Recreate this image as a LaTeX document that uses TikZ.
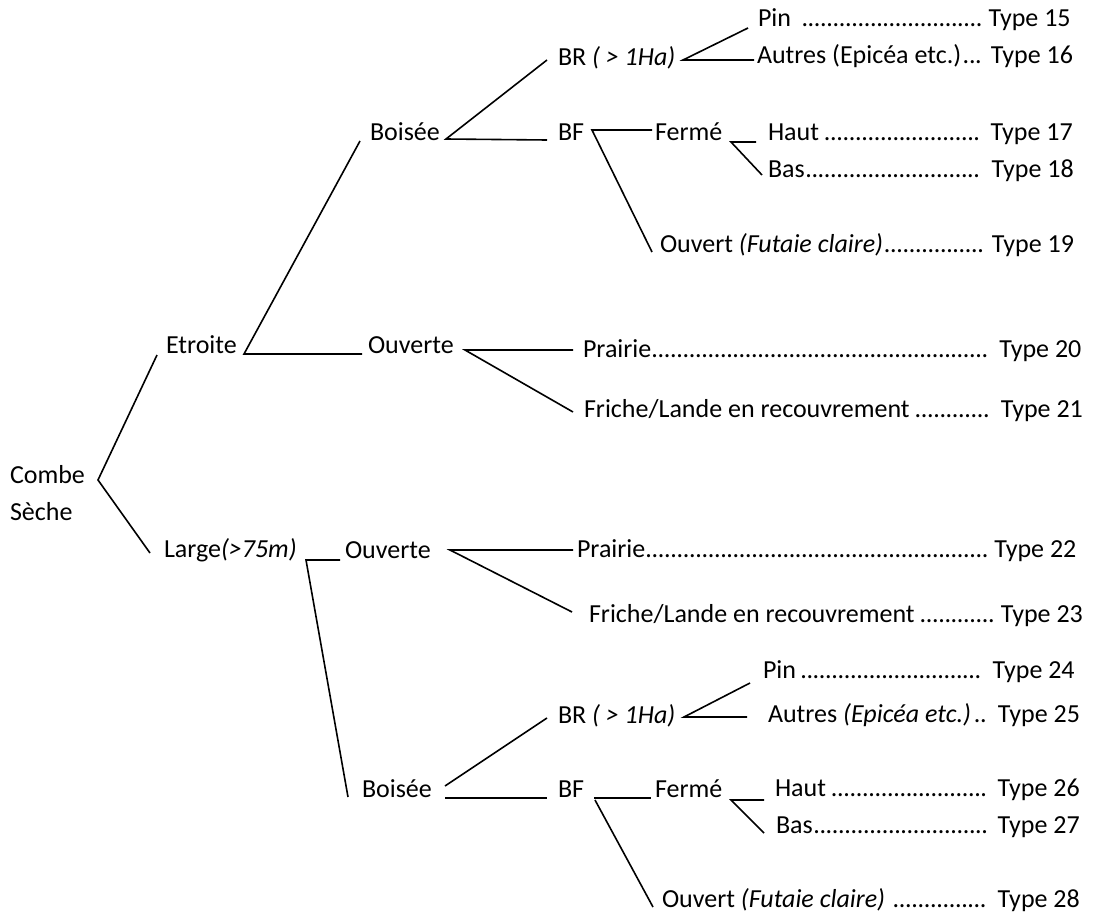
\documentclass[tikz,border=0pt]{standalone}
\usepackage{fontspec}
\setmainfont{Carlito}
\newcommand\dl{\leaders\hbox to 0.24em{\hss.\hss}\hfill}
\newcommand\rowbox[2]{\makebox[#1pt][l]{#2}}
\tikzset{
  lbl/.style={anchor=base west, inner sep=0pt, outer sep=0pt, font=\fontsize{26}{31}\selectfont},
  con/.style={line width=1.6pt},
}
\begin{document}
\begin{tikzpicture}[x=1pt,y=-1pt]
\useasboundingbox[fill=white] (0,0) rectangle (1095,918);
% ---- labels
\node[lbl] (combe) at (10,483) {Combe};
\node[lbl] (seche) at (10,520) {Sèche};
\node[lbl] (etroite) at (166,353) {Etroite};
\node[lbl] (large) at (164,557) {Large\textit{(>75m)}};
\node[lbl] (boiseeA) at (370,140) {Boisée};
\node[lbl] (ouverteA) at (368,353) {Ouverte};
\node[lbl] (brA) at (558,65) {BR \textit{( > 1Ha)}};
\node[lbl] (bfA) at (558,140) {BF};
\node[lbl] (fermeA) at (655,140) {Fermé};
\node[lbl] (ouverteB) at (345,558) {Ouverte};
\node[lbl] (boiseeB) at (362,797) {Boisée};
\node[lbl] (brB) at (558,723) {BR \textit{( > 1Ha)}};
\node[lbl] (bfB) at (558,797) {BF};
\node[lbl] (fermeB) at (655,797) {Fermé};
% ---- leaves
\node[lbl] (t15) at (758,27) {\rowbox{313}{Pin \dl{} Type 15}};
\node[lbl] (t16) at (757,63) {\rowbox{316}{Autres (Epicéa etc.)\dl{} Type 16}};
\node[lbl] (t17) at (768,140) {\rowbox{305}{Haut\dl{} Type 17}};
\node[lbl] (t18) at (768,177) {\rowbox{306}{Bas\dl{} Type 18}};
\node[lbl] (t19) at (660,252) {\rowbox{414}{Ouvert \textit{(Futaie claire)\dl{}} Type 19}};
\node[lbl] (t20) at (583,357) {\rowbox{499}{Prairie\dl{} Type 20}};
\node[lbl] (t21) at (584,417) {\rowbox{499}{Friche/Lande en recouvrement\dl{} Type 21}};
\node[lbl] (t22) at (577,557) {\rowbox{500}{Prairie\dl{} Type 22}};
\node[lbl] (t23) at (589,622) {\rowbox{494}{Friche/Lande en recouvrement\dl{} Type 23}};
\node[lbl] (t24) at (763,678) {\rowbox{312}{Pin\dl{} Type 24}};
\node[lbl] (t25) at (768,722) {\rowbox{312}{Autres \textit{(Epicéa etc.)}\dl{} Type 25}};
\node[lbl] (t26) at (775,796) {\rowbox{305}{Haut\dl{} Type 26}};
\node[lbl] (t27) at (776,833) {\rowbox{304}{Bas\dl{} Type 27}};
\node[lbl] (t28) at (662,907) {\rowbox{418}{Ouvert \textit{(Futaie claire)} \dl{} Type 28}};
% ---- connector points
\coordinate (v0) at (98,480);
\coordinate (e0a) at (157,355);
\coordinate (e0b) at (150,553);
\coordinate (v1) at (244,354);
\coordinate (e1a) at (360,141);
\coordinate (e1b) at (362,354);
\coordinate (v2) at (446,139);
\coordinate (e2a) at (547,60);
\coordinate (e2b) at (547,140);
\coordinate (v3) at (683,60);
\coordinate (e3a) at (748,28);
\coordinate (e3b) at (754,60);
\coordinate (v4) at (592,130);
\coordinate (e4a) at (652,130);
\coordinate (e4b) at (652,252);
\coordinate (v5) at (731,142);
\coordinate (e5a) at (756,142);
\coordinate (e5b) at (762,175);
\coordinate (v6) at (465,350);
\coordinate (e6a) at (573,350);
\coordinate (e6b) at (573,412);
\coordinate (v7) at (306,560);
\coordinate (e7a) at (340,560);
\coordinate (e7b) at (348,797);
\coordinate (v8) at (450,550);
\coordinate (e8a) at (573,550);
\coordinate (e8b) at (572,612);
\coordinate (v9a) at (445,786);
\coordinate (e9a) at (547,718);
\coordinate (v9b) at (445,798);
\coordinate (e9b) at (547,798);
\coordinate (v10) at (684,717);
\coordinate (e10a) at (750,683);
\coordinate (e10b) at (747,717);
\coordinate (v11a) at (594,798);
\coordinate (e11a) at (651,798);
\coordinate (v11b) at (595,800);
\coordinate (e11b) at (653,907);
\coordinate (v12) at (731,800);
\coordinate (e12a) at (764,800);
\coordinate (e12b) at (764,833);
% ---- connectors
\draw[con] (e0a) -- (v0) -- (e0b);
\draw[con] (e1a) -- (v1) -- (e1b);
\draw[con] (e2a) -- (v2) -- (e2b);
\draw[con] (e3a) -- (v3) -- (e3b);
\draw[con] (e4a) -- (v4) -- (e4b);
\draw[con] (e5a) -- (v5) -- (e5b);
\draw[con] (e6a) -- (v6) -- (e6b);
\draw[con] (e7a) -- (v7) -- (e7b);
\draw[con] (e8a) -- (v8) -- (e8b);
\draw[con] (v9a) -- (e9a);
\draw[con] (v9b) -- (e9b);
\draw[con] (e10a) -- (v10) -- (e10b);
\draw[con] (v11a) -- (e11a);
\draw[con] (v11b) -- (e11b);
\draw[con] (e12a) -- (v12) -- (e12b);
\end{tikzpicture}
\end{document}
